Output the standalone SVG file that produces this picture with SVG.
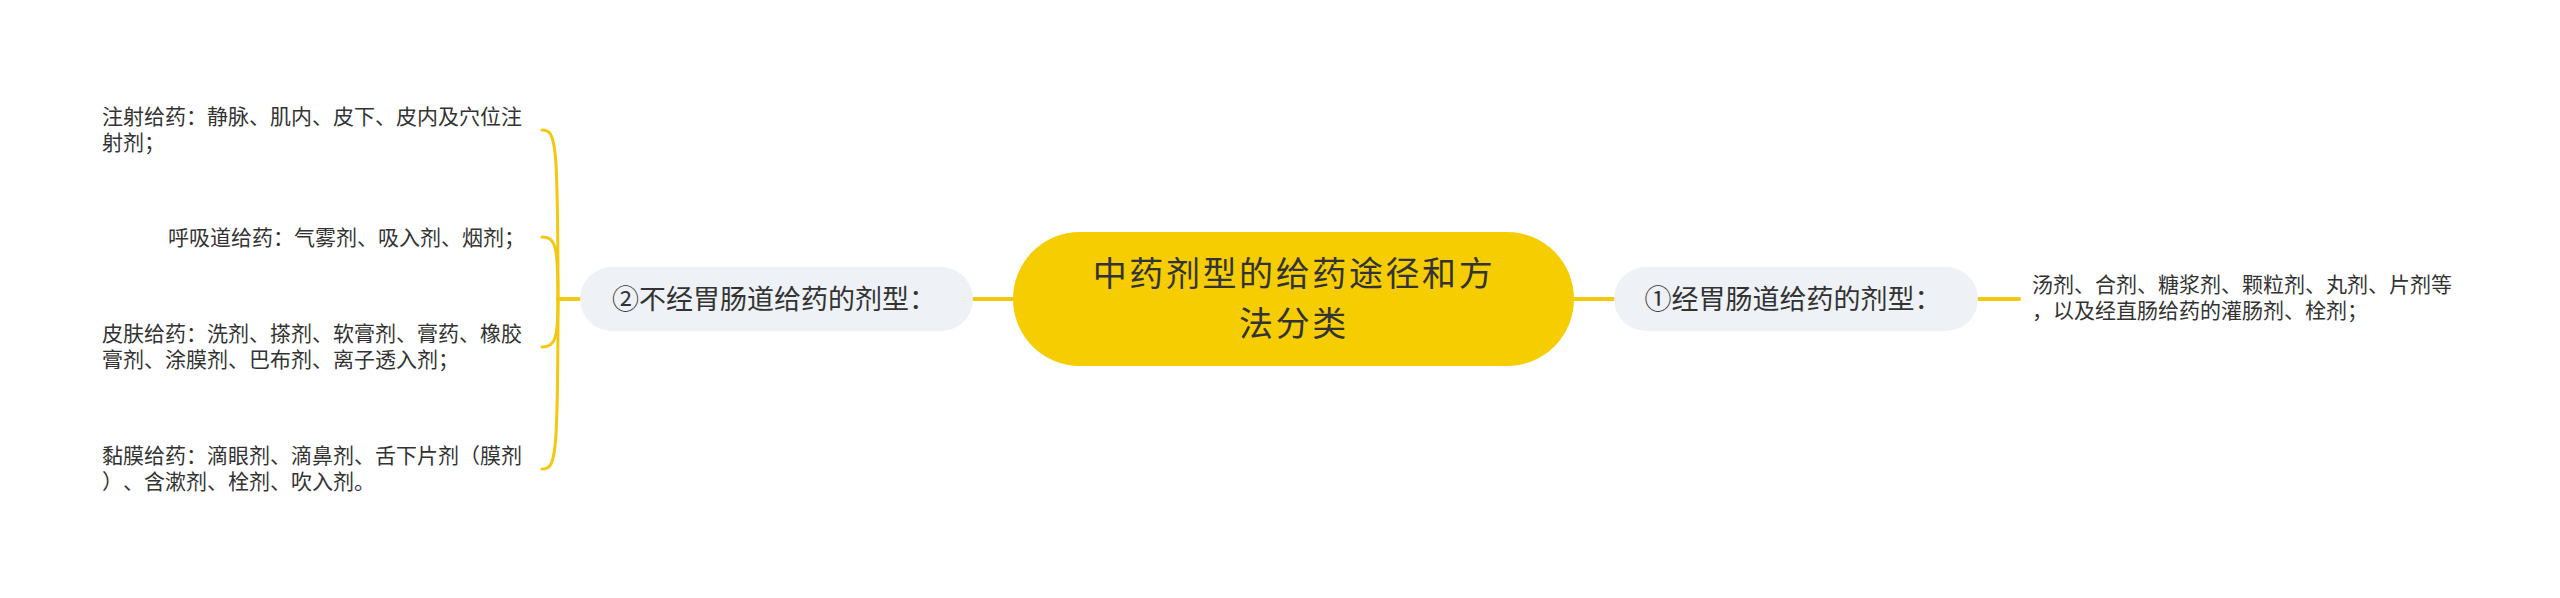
<svg xmlns="http://www.w3.org/2000/svg" width="2560" height="598" viewBox="0 0 2560 598">
<style>
.t{font-family:"Noto Sans CJK SC","Noto Sans",sans-serif;fill:#333333;font-kerning:none}
.root{font-size:34px;letter-spacing:2.6px}
.br{font-size:27px}
.lf{font-size:21px}
.c{fill:none;stroke:#F2C811;stroke-linecap:round}
.c1{stroke-width:4}
.c2{stroke-width:3}
</style>
<rect width="2560" height="598" fill="#ffffff"/>
<g id="connectors">
<path class="c c1" d="M1013 299 H973"/>
<path class="c c1" d="M1574 299 H1614"/>
<path class="c c1" d="M1978 299 H2019"/>
<path class="c c2" d="M580 299 H558 C558 140 556 130 542 130"/>
<path class="c c2" d="M580 299 H558 C558 247 556 237 542 237"/>
<path class="c c2" d="M580 299 H558 C558 337 556 347 542 347"/>
<path class="c c2" d="M580 299 H558 C558 459 556 469 542 469"/>
</g>
<g id="root">
<rect x="1013" y="232" width="561" height="134" rx="67" fill="#F5CD00"/>
<text class="t root" text-anchor="middle"><tspan x="1294" y="286">中药剂型的给药途径和方</tspan><tspan x="1294" y="336">法分类</tspan></text>
</g>
<g id="branch-right">
<rect x="1614" y="267" width="364" height="64" rx="32" fill="#EEF1F5"/>
<text class="t br" x="1793" y="309" text-anchor="middle">①经胃肠道给药的剂型：</text>
</g>
<g id="leaf-right">
<text class="t lf"><tspan x="2032" y="292">汤剂、合剂、糖浆剂、颗粒剂、丸剂、片剂等</tspan><tspan x="2032" y="318">，以及经直肠给药的灌肠剂、栓剂；</tspan></text>
</g>
<g id="branch-left">
<rect x="580" y="267" width="393" height="64" rx="32" fill="#EEF1F5"/>
<text class="t br" x="774" y="309" text-anchor="middle">②不经胃肠道给药的剂型：</text>
</g>
<g id="leaf-1">
<text class="t lf"><tspan x="102" y="124">注射给药：静脉、肌内、皮下、皮内及穴位注</tspan><tspan x="102" y="150">射剂；</tspan></text>
</g>
<g id="leaf-2">
<text class="t lf" x="168" y="245">呼吸道给药：气雾剂、吸入剂、烟剂；</text>
</g>
<g id="leaf-3">
<text class="t lf"><tspan x="102" y="341">皮肤给药：洗剂、搽剂、软膏剂、膏药、橡胶</tspan><tspan x="102" y="367">膏剂、涂膜剂、巴布剂、离子透入剂；</tspan></text>
</g>
<g id="leaf-4">
<text class="t lf"><tspan x="102" y="463">黏膜给药：滴眼剂、滴鼻剂、舌下片剂（膜剂</tspan><tspan x="102" y="489">）</tspan><tspan x="123" y="489">、含漱剂、栓剂、吹入剂。</tspan></text>
</g>
</svg>
